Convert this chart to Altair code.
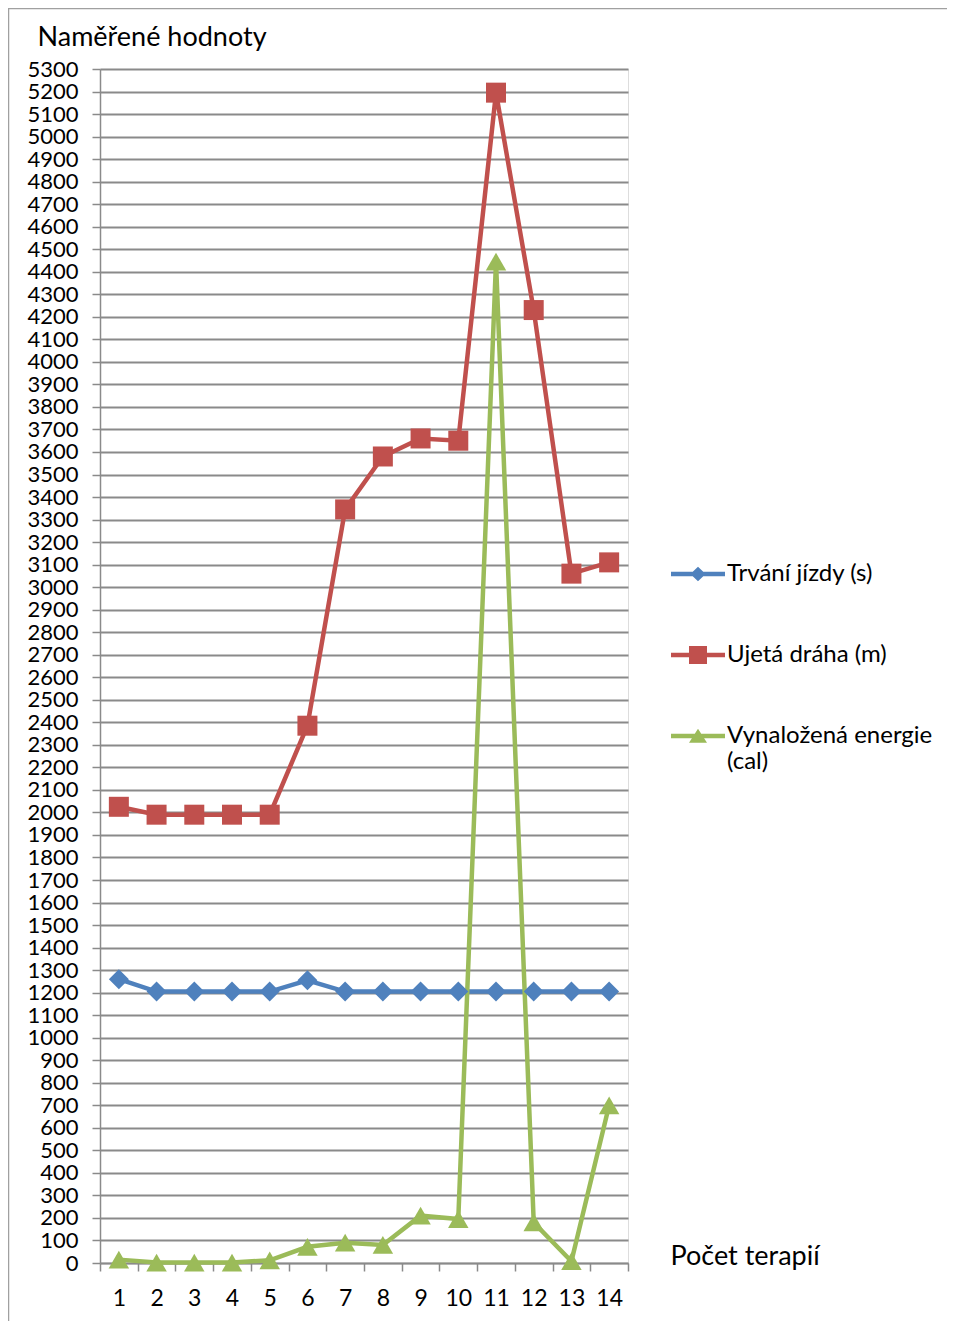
import altair as alt
import pandas as pd

terapie = list(range(1, 15))
trvani = [1260, 1205, 1205, 1205, 1205, 1255, 1205, 1205, 1205, 1205, 1205, 1205, 1205, 1205]
draha = [2025, 1990, 1990, 1990, 1990, 2385, 3345, 3580, 3660, 3650, 5195, 4230, 3060, 3110]
energie = [15, 2, 2, 2, 12, 72, 90, 80, 210, 195, 4445, 180, 8, 700]
series = ["Trvání jízdy (s)", "Ujetá dráha (m)", "Vynaložená energie (cal)"]
colors = ["#4F81BD", "#C0504D", "#9BBB59"]
shapes = ["diamond", "square", "triangle-up"]
y_ticks = list(range(0, 5301, 100))

rows = []
for name, vals in zip(series, [trvani, draha, energie]):
    for t, v in zip(terapie, vals):
        rows.append({"Terapie": t, "Hodnota": v, "Serie": name})
df = pd.DataFrame(rows)

FONT = "Lato"
GRID = "#8a8a8a"

# legend symbols: line segment with marker (unit square -1..1 scaled by sqrt(size)/2)
line_seg = "M-3,-0.24L3,-0.24L3,0.24L-3,0.24Z"
legend_paths = [
    line_seg + "M0,-0.8L0.85,0L0,0.8L-0.85,0Z",
    line_seg + "M-1,-1L1,-1L1,1L-1,1Z",
    line_seg + "M0,-0.8L1,0.75L-1,0.75Z",
]

x_enc = alt.X(
    "Terapie:O",
    sort=terapie,
    scale=alt.Scale(type="band", paddingInner=0, paddingOuter=0),
    axis=alt.Axis(
        title="Počet terapií",
        titleX=570,
        titleY=-7,
        titleAlign="left",
        titleBaseline="middle",
        titleAngle=0,
        titleFont=FONT,
        titleFontSize=27,
        titleFontWeight="normal",
        titleColor="#000000",
        labelAngle=0,
        labelFont=FONT,
        labelFontSize=23,
        labelColor="#000000",
        labelPadding=16,
        tickBand="extent",
        tickSize=8,
        tickColor=GRID,
        tickWidth=1.5,
        domainColor=GRID,
        domainWidth=1.5,
        grid=False,
    ),
)

y_enc = alt.Y(
    "Hodnota:Q",
    scale=alt.Scale(domain=[0, 5300], nice=False, zero=True),
    axis=alt.Axis(
        values=y_ticks,
        format="d",
        title="Naměřené hodnoty",
        titleX=-63,
        titleY=-32,
        titleAngle=0,
        titleAlign="left",
        titleBaseline="middle",
        titleFont=FONT,
        titleFontSize=27,
        titleFontWeight="normal",
        titleColor="#000000",
        labelFont=FONT,
        labelFontSize=22,
        labelColor="#000000",
        labelPadding=14,
        labelOverlap=False,
        labelBaseline="middle",
        tickSize=8,
        tickColor=GRID,
        tickWidth=1.5,
        domainColor=GRID,
        domainWidth=1.5,
        grid=True,
        gridColor=GRID,
        gridWidth=1.8,
    ),
)

label_expr = "datum.label === 'Vynaložená energie (cal)' ? ['Vynaložená energie', '(cal)'] : datum.label"

color_enc = alt.Color(
    "Serie:N",
    sort=series,
    scale=alt.Scale(domain=series, range=colors),
    legend=alt.Legend(
        title=None,
        orient="none",
        legendX=586,
        legendY=493,
        symbolSize=324,
        symbolStrokeWidth=0,
        symbolOpacity=1,
        labelFont=FONT,
        labelFontSize=24,
        labelColor="#000000",
        labelOffset=17,
        labelLimit=400,
        rowPadding=57,
        labelExpr=label_expr,
    ),
)

lines = alt.Chart(df).mark_line(strokeWidth=4.5).encode(
    x=x_enc, y=y_enc, color=color_enc, detail="Serie:N"
)

point_layers = []
for name, shp, sz in zip(series, shapes, [400, 400, 420]):
    point_layers.append(
        alt.Chart(df)
        .transform_filter(alt.datum.Serie == name)
        .mark_point(filled=True, opacity=1, size=sz, shape=shp)
        .encode(x=x_enc, y=y_enc, color=color_enc)
    )

# empty layer that only carries the legend shapes
legend_layer = (
    alt.Chart(df)
    .transform_filter("false")
    .mark_point(filled=True, opacity=1)
    .encode(
        x=x_enc,
        y=y_enc,
        color=color_enc,
        shape=alt.Shape("Serie:N", sort=series, scale=alt.Scale(domain=series, range=legend_paths)),
    )
)

frame_df = pd.DataFrame({"k": [0]})
left_border = alt.Chart(frame_df).mark_rule(color="#a0a0a0", strokeWidth=1.5).encode(
    x=alt.value(-91.5), y=alt.value(-61), y2=alt.value(1260)
)
top_border = alt.Chart(frame_df).mark_rule(color="#a0a0a0", strokeWidth=1.5).encode(
    x=alt.value(-92), x2=alt.value(850), y=alt.value(-60.5)
)

chart = alt.layer(lines, *point_layers, legend_layer, left_border, top_border).properties(
    width=528,
    height=1194,
    padding={"left": 92, "top": 61, "right": 319, "bottom": 58},
    autosize=alt.AutoSizeParams(type="none"),
).configure_view(stroke=None).configure(background="white")

chart.save("out.html", embed_options={"renderer": "svg", "actions": False})
